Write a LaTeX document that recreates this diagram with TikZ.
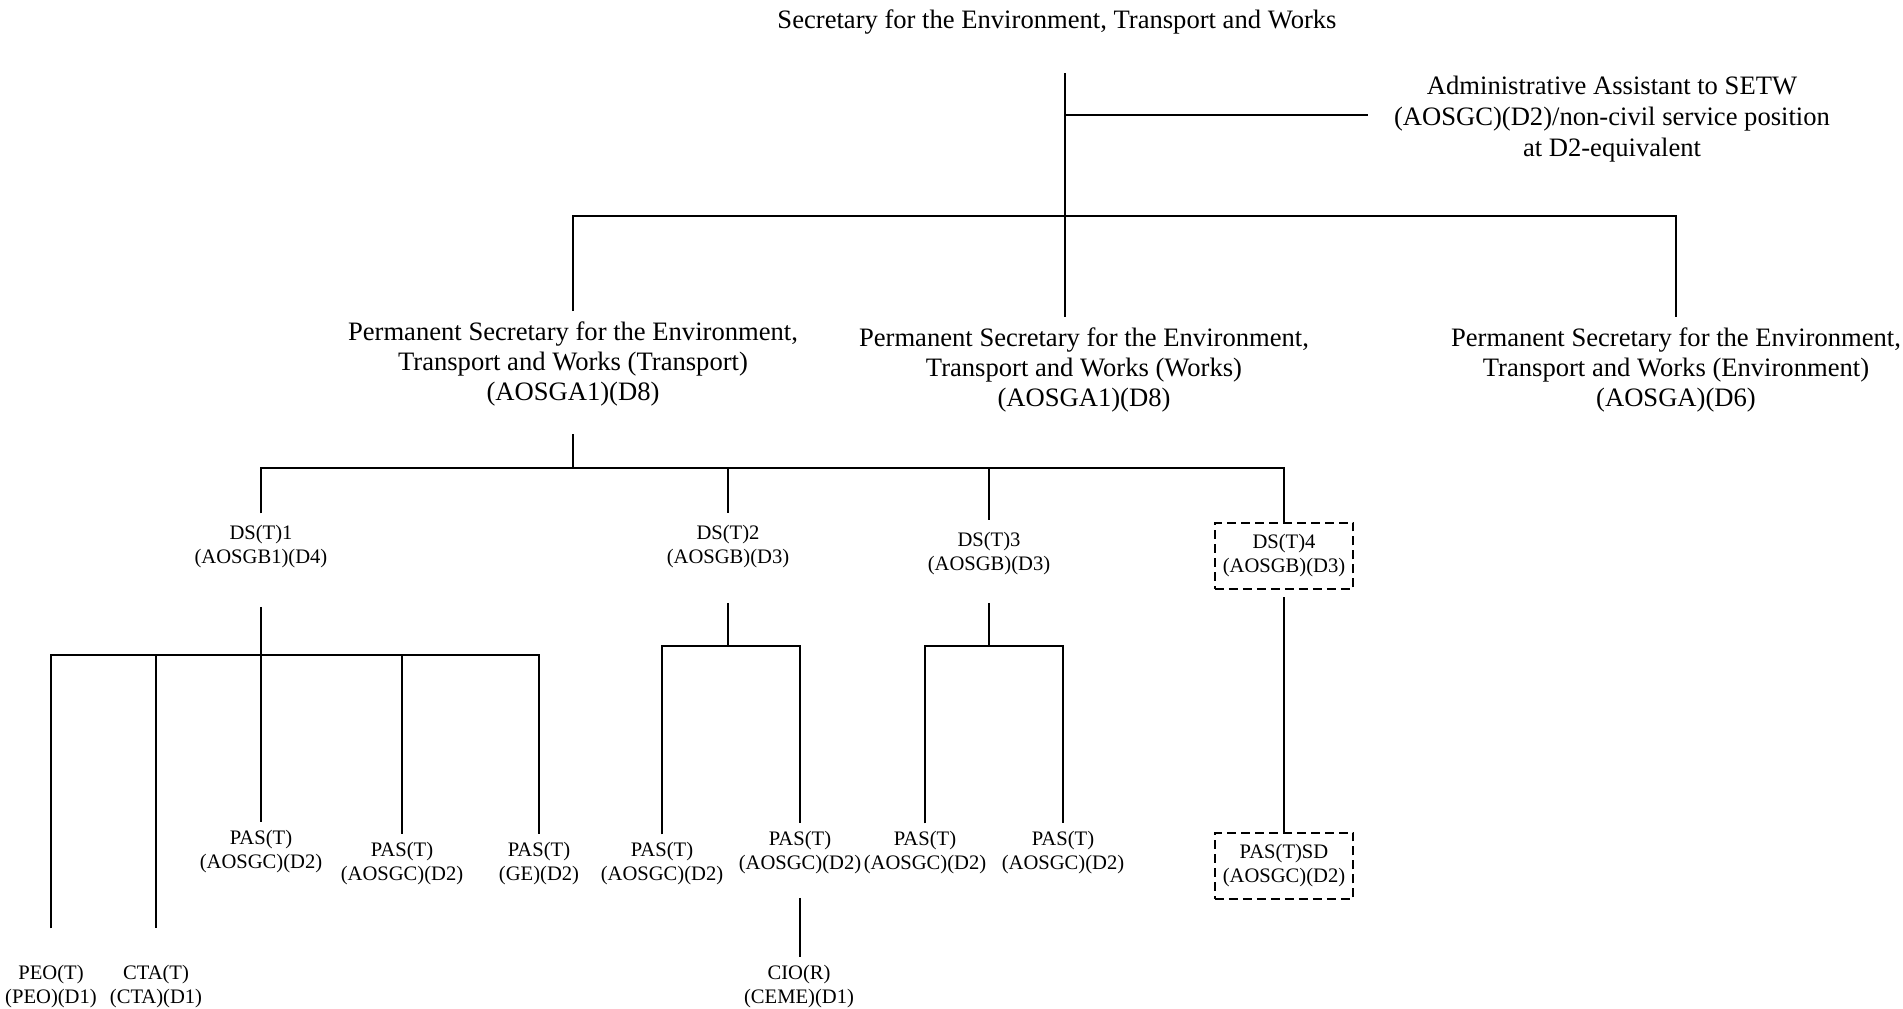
\documentclass[tikz,border=0pt]{standalone}
\usepackage{fontspec}
\setmainfont{Liberation Serif}
\usepackage{tikz}

\begin{document}
\begin{tikzpicture}[
    x=0.5pt,y=-0.5pt,
    Post/.style={align=center,font=\fontsize{13.3}{15.2}\selectfont,inner sep=5pt},
    Unit/.style={align=center,font=\fontsize{10.3}{12}\selectfont,inner sep=4pt},
    Deputy/.style={Unit,inner sep=6pt},
    Vacant/.style={Unit,draw,line width=1pt,dash pattern=on 4.5pt off 2.5pt,minimum width=69pt,minimum height=33pt},
    Line/.style={line width=0.9pt},
    ]

    \useasboundingbox (0,0) rectangle (1903,1008);

    % secretary and assistant
    \node[Post] (setw)  at (1057,22)  {Secretary for the Environment, Transport and Works};
    \node[Post,font=\fontsize{13.3}{15.6}\selectfont] (admin) at (1612,119) {Administrative Assistant to SETW\\(AOSGC)(D2)/non-civil service position\\at D2-equivalent};

    % permanent secretaries
    \node[Post] (pst) at (573,364)  {Permanent Secretary for the Environment,\\Transport and Works (Transport)\\(AOSGA1)(D8)};
    \node[Post] (psw) at (1084,370) {Permanent Secretary for the Environment,\\Transport and Works (Works)\\(AOSGA1)(D8)};
    \node[Post] (pse) at (1676,370) {Permanent Secretary for the Environment,\\Transport and Works (Environment)\\(AOSGA)(D6)};

    % deputy secretaries
    \node[Deputy] (ds1) at (261,547)  {DS(T)1\\(AOSGB1)(D4)};
    \node[Deputy] (ds2) at (728,547)  {DS(T)2\\(AOSGB)(D3)};
    \node[Deputy] (ds3) at (989,554)  {DS(T)3\\(AOSGB)(D3)};
    \node[Vacant] (ds4) at (1284,556) {DS(T)4\\(AOSGB)(D3)};

    % principal assistant secretaries
    \node[Unit] (pas11) at (261,852)  {PAS(T)\\(AOSGC)(D2)};
    \node[Unit] (pas12) at (402,864)  {PAS(T)\\(AOSGC)(D2)};
    \node[Unit] (pas13) at (539,864)  {PAS(T)\\(GE)(D2)};
    \node[Unit] (pas21) at (662,864)  {PAS(T)\\(AOSGC)(D2)};
    \node[Unit] (pas22) at (800,853)  {PAS(T)\\(AOSGC)(D2)};
    \node[Unit] (pas31) at (925,853)  {PAS(T)\\(AOSGC)(D2)};
    \node[Unit] (pas32) at (1063,853) {PAS(T)\\(AOSGC)(D2)};
    \node[Vacant] (pastsd) at (1284,866) {PAS(T)SD\\(AOSGC)(D2)};

    % bottom row
    \node[Unit] (peo) at (51,987)  {PEO(T)\\(PEO)(D1)};
    \node[Unit] (cta) at (156,987) {CTA(T)\\(CTA)(D1)};
    \node[Unit] (cio) at (799,987) {CIO(R)\\(CEME)(D1)};

    \coordinate (top) at (1065,73);
    \coordinate (aa)  at (1065,115);
    \coordinate (b1)  at (1065,216);
    \coordinate (b2)  at (573,468);
    \coordinate (b3)  at (261,655);
    \coordinate (b4)  at (728,646);
    \coordinate (b5)  at (989,646);

    \draw[Line] (top) -- (top |- psw.north);
    \draw[Line,shorten >=8pt] (aa) -- (aa -| admin.west);
    \draw[Line] (pst.north) |- (b1) -| (pse.north);

    \draw[Line,shorten <=8.5pt] (pst.south) -- (b2);
    \draw[Line] (ds1.north) |- (b2) -| (ds4.north);
    \draw[Line] (ds2.north |- b2) -- (ds2.north);
    \draw[Line] (ds3.north |- b2) -- (ds3.north);

    \draw[Line,shorten <=13pt]   (ds1.south) -- (b3);
    \draw[Line,shorten <=14.5pt] (peo.north) |- (b3) -| (pas13.north);
    \draw[Line,shorten >=14.5pt] (cta.north |- b3) -- (cta.north);
    \draw[Line] (b3) -- (pas11.north);
    \draw[Line] (pas12.north |- b3) -- (pas12.north);

    \draw[Line,shorten <=11pt] (ds2.south) -- (b4);
    \draw[Line] (pas21.north) |- (b4) -| (pas22.north);
    \draw[Line,shorten <=7.5pt] (pas22.south) -- (pas22.south |- cio.north);

    \draw[Line,shorten <=7.5pt] (ds3.south) -- (b5);
    \draw[Line] (pas31.north) |- (b5) -| (pas32.north);

    \draw[Line,shorten <=3.5pt] (ds4.south) -- (pastsd.north);
  \end{tikzpicture}
\end{document}
